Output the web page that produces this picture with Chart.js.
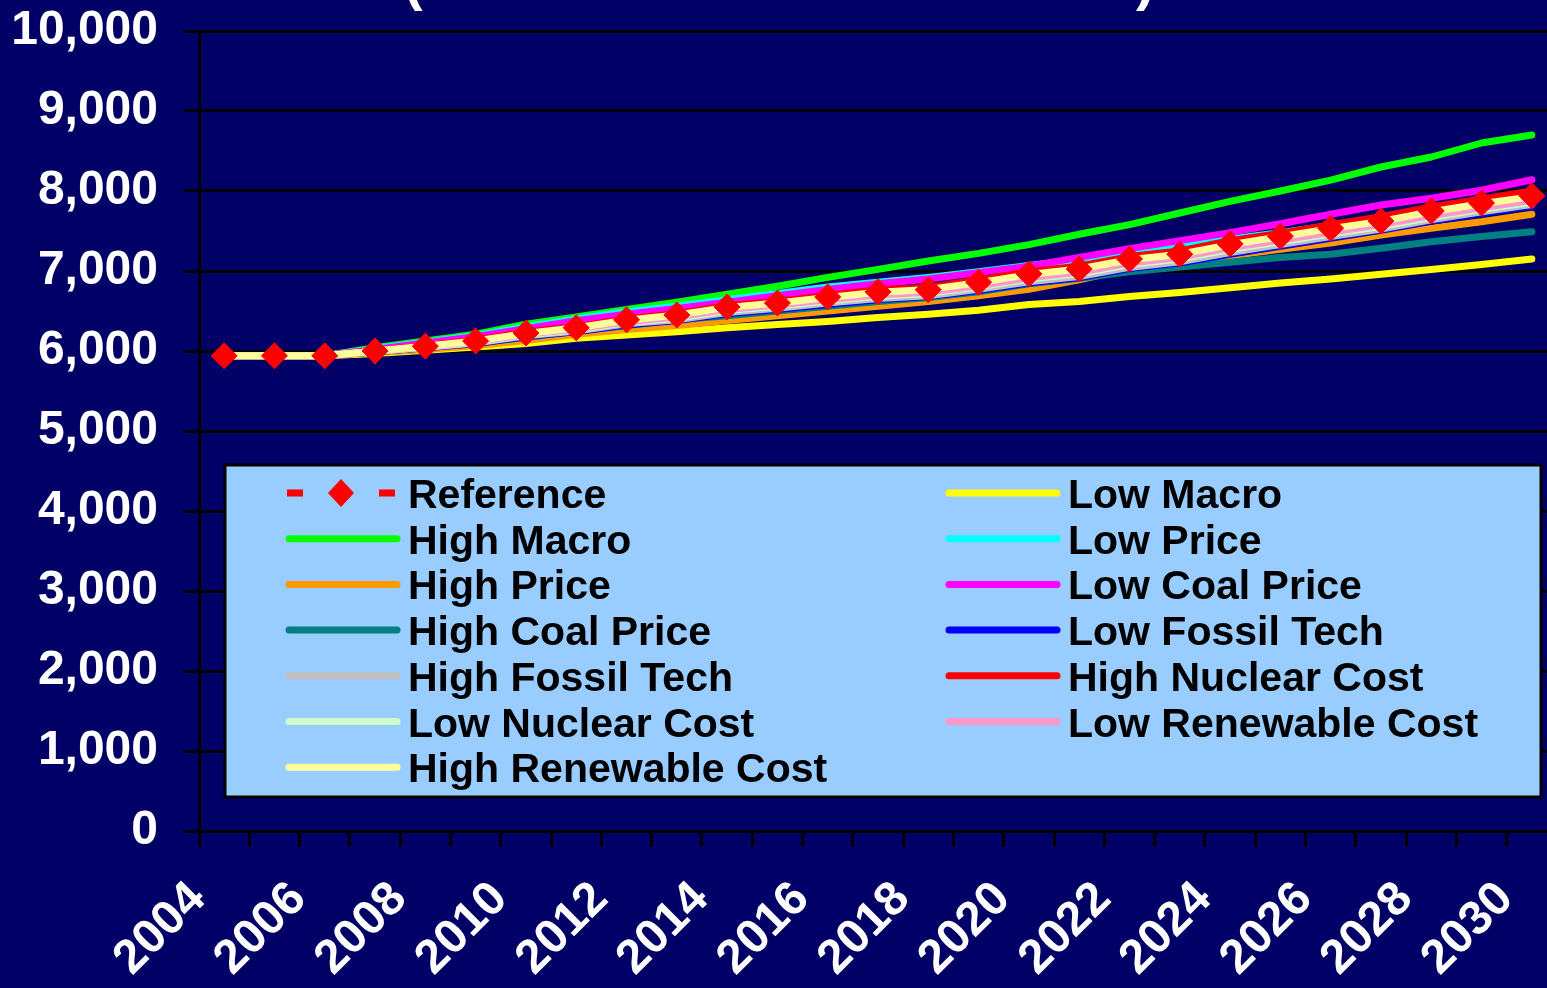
<!DOCTYPE html>
<html>
<head>
<meta charset="utf-8">
<title>Scenario chart</title>
<script src="https://cdn.jsdelivr.net/npm/chart.js@4/dist/chart.umd.min.js"></script>
<style>
    html, body { margin: 0; padding: 0; background: #000066; overflow: hidden; }
    canvas { display: block; }
</style>
</head>
<body>
<canvas id="scenarioChart" width="1583" height="988"></canvas>
<script>
const years = ['2004', '2005', '2006', '2007', '2008', '2009', '2010', '2011', '2012', '2013',
    '2014', '2015', '2016', '2017', '2018', '2019', '2020', '2021', '2022', '2023',
    '2024', '2025', '2026', '2027', '2028', '2029', '2030'];

const reference = [5940, 5940, 5940, 6000, 6060, 6125, 6225, 6290, 6390, 6450, 6550, 6600, 6675, 6740, 6765, 6860, 6965, 7025, 7150, 7210, 7340, 7435, 7535, 7625, 7750, 7850, 7940];
const lowMacro = [5940, 5940, 5940, 5970, 6010, 6050, 6095, 6160, 6200, 6240, 6290, 6330, 6370, 6420, 6460, 6510, 6580, 6620, 6680, 6730, 6790, 6850, 6900, 6960, 7020, 7080, 7150];
const highMacro = [5940, 5940, 5940, 6040, 6125, 6210, 6335, 6425, 6520, 6610, 6710, 6810, 6920, 7020, 7125, 7220, 7330, 7460, 7580, 7725, 7870, 8000, 8135, 8300, 8425, 8600, 8700];
const lowPrice = [5940, 5940, 5940, 6030, 6110, 6190, 6300, 6400, 6490, 6560, 6640, 6720, 6800, 6860, 6920, 6990, 7070, 7140, 7220, 7300, 7400, 7480, 7570, 7660, 7760, 7860, 7960];
const highPrice = [5940, 5940, 5940, 5980, 6020, 6070, 6130, 6210, 6270, 6320, 6380, 6440, 6500, 6560, 6620, 6690, 6770, 6890, 7030, 7110, 7190, 7270, 7350, 7450, 7535, 7615, 7710];
const lowCoalPrice = [5940, 5940, 5940, 6020, 6100, 6180, 6280, 6380, 6460, 6530, 6610, 6690, 6770, 6840, 6900, 6980, 7060, 7170, 7280, 7380, 7480, 7590, 7710, 7825, 7910, 8010, 8140];
const highCoalPrice = [5940, 5940, 5940, 5990, 6040, 6100, 6170, 6250, 6320, 6390, 6440, 6500, 6560, 6620, 6670, 6740, 6840, 6910, 6990, 7050, 7110, 7170, 7210, 7285, 7365, 7430, 7490];
const lowFossilTech = [5940, 5940, 5940, 5990, 6040, 6090, 6180, 6240, 6325, 6380, 6465, 6520, 6580, 6640, 6680, 6755, 6850, 6915, 7030, 7100, 7210, 7310, 7410, 7510, 7620, 7720, 7810];
const highFossilTech = [5940, 5940, 5940, 5990, 6045, 6100, 6190, 6250, 6340, 6390, 6480, 6535, 6600, 6655, 6690, 6770, 6865, 6930, 7045, 7115, 7230, 7330, 7430, 7525, 7640, 7740, 7830];
const highNuclearCost = [5940, 5940, 5940, 6000, 6065, 6135, 6235, 6305, 6400, 6465, 6565, 6620, 6695, 6765, 6795, 6890, 6990, 7060, 7180, 7250, 7380, 7470, 7580, 7680, 7800, 7900, 8000];
const lowNuclearCost = [5940, 5940, 5940, 5995, 6050, 6110, 6200, 6265, 6355, 6410, 6505, 6560, 6625, 6685, 6720, 6800, 6900, 6965, 7080, 7150, 7270, 7365, 7465, 7555, 7670, 7770, 7860];
const lowRenewableCost = [5940, 5940, 5940, 5995, 6055, 6115, 6210, 6275, 6365, 6425, 6520, 6575, 6640, 6700, 6735, 6815, 6915, 6985, 7100, 7170, 7290, 7385, 7485, 7580, 7690, 7790, 7880];
const highRenewableCost = [5940, 5940, 5940, 6000, 6060, 6125, 6220, 6290, 6385, 6450, 6545, 6600, 6670, 6735, 6770, 6855, 6955, 7025, 7140, 7210, 7330, 7430, 7530, 7620, 7740, 7840, 7930];

const fontFamily = 'Arial, "Liberation Sans", sans-serif';

function scenario(label, data, color, order) {
    return {
        label: label,
        data: data,
        borderColor: color,
        backgroundColor: color,
        borderWidth: 7,
        borderCapStyle: 'round',
        borderJoinStyle: 'round',
        pointRadius: 0,
        tension: 0,
        order: order
    };
}

// Title sits above the visible frame; only the tails of its brackets show
const clippedTitle = {
    id: 'clippedTitle',
    afterDraw: function(chart) {
        const ctx = chart.ctx;
        ctx.save();
        ctx.fillStyle = '#ffffff';
        ctx.font = 'bold 56px ' + fontFamily;
        ctx.textBaseline = 'alphabetic';
        ctx.fillText('(', 404, -1);
        ctx.fillText(')', 1136, -1);
        ctx.restore();
    }
};

// Legend inside the plot, two columns filled row by row
const boxLegend = {
    id: 'boxLegend',
    afterDraw: function(chart) {
        const ctx = chart.ctx;
        const area = chart.chartArea;
        const x0 = area.left + 26;
        const y0 = area.top + 434;
        const w = 1316;
        const h = 332;
        ctx.save();
        ctx.fillStyle = '#99ccff';
        ctx.fillRect(x0, y0, w, h);
        ctx.strokeStyle = '#000000';
        ctx.lineWidth = 3;
        ctx.strokeRect(x0, y0, w, h);
        ctx.font = 'bold 41px ' + fontFamily;
        ctx.textBaseline = 'alphabetic';
        chart.data.datasets.forEach(function(ds, i) {
            const col = i % 2;
            const row = Math.floor(i / 2);
            const lx = x0 + 61 + col * 660;
            const cy = y0 + 28 + row * 45.7;
            if (ds.showLine === false) {
                ctx.fillStyle = ds.pointBackgroundColor;
                ctx.fillRect(lx + 1, cy - 3.5, 16, 7);
                ctx.fillRect(lx + 93, cy - 3.5, 16, 7);
                ctx.beginPath();
                ctx.moveTo(lx + 55, cy - 14);
                ctx.lineTo(lx + 68, cy);
                ctx.lineTo(lx + 55, cy + 14);
                ctx.lineTo(lx + 42, cy);
                ctx.closePath();
                ctx.fill();
            } else {
                ctx.strokeStyle = ds.borderColor;
                ctx.lineWidth = 7;
                ctx.lineCap = 'round';
                ctx.beginPath();
                ctx.moveTo(lx + 3, cy);
                ctx.lineTo(lx + 111, cy);
                ctx.stroke();
            }
            ctx.fillStyle = '#000000';
            ctx.fillText(ds.label, lx + 122, cy + 15);
        });
        ctx.restore();
    }
};

const ctx = document.getElementById('scenarioChart').getContext('2d');
const chart = new Chart(ctx, {
    type: 'line',
    data: {
        labels: years,
        datasets: [
            {
                label: 'Reference',
                data: reference,
                showLine: false,
                borderColor: '#ff0000',
                backgroundColor: '#ff0000',
                pointStyle: 'rectRot',
                pointRadius: 13,
                pointBorderWidth: 1,
                pointBackgroundColor: '#ff0000',
                pointBorderColor: '#ff0000',
                order: 0
            },
            scenario('Low Macro', lowMacro, '#ffff00', 20),
            scenario('High Macro', highMacro, '#00ff00', 19),
            scenario('Low Price', lowPrice, '#00ffff', 18),
            scenario('High Price', highPrice, '#ff9900', 17),
            scenario('Low Coal Price', lowCoalPrice, '#ff00ff', 16),
            scenario('High Coal Price', highCoalPrice, '#008080', 15),
            scenario('Low Fossil Tech', lowFossilTech, '#0000ff', 14),
            scenario('High Fossil Tech', highFossilTech, '#c0c0c0', 13),
            scenario('High Nuclear Cost', highNuclearCost, '#ff0000', 12),
            scenario('Low Nuclear Cost', lowNuclearCost, '#ccffcc', 11),
            scenario('Low Renewable Cost', lowRenewableCost, '#ff99cc', 10),
            scenario('High Renewable Cost', highRenewableCost, '#ffff99', 9)
        ]
    },
    options: {
        responsive: false,
        animation: false,
        layout: {
            padding: { top: 31, right: 26, left: 0, bottom: 0 }
        },
        plugins: {
            legend: { display: false },
            tooltip: { enabled: false }
        },
        scales: {
            x: {
                offset: true,
                grid: {
                    offset: true,
                    drawOnChartArea: false,
                    drawTicks: true,
                    tickLength: 16,
                    color: '#000000',
                    lineWidth: 3
                },
                border: { color: '#000000', width: 3 },
                ticks: {
                    autoSkip: false,
                    maxRotation: 45,
                    minRotation: 45,
                    padding: 24,
                    labelOffset: -26,
                    color: '#ffffff',
                    font: { family: fontFamily, size: 48, weight: 'bold' },
                    callback: function(value, index) {
                        return index % 2 === 0 ? this.getLabelForValue(value) : '';
                    }
                },
                afterFit: function(scale) {
                    scale.height = 157;
                    scale.paddingLeft = 0;
                    scale.paddingRight = 0;
                }
            },
            y: {
                min: 0,
                max: 10000,
                grid: {
                    color: '#000000',
                    lineWidth: 3,
                    tickLength: 16
                },
                border: { color: '#000000', width: 3 },
                ticks: {
                    stepSize: 1000,
                    padding: 25,
                    color: '#ffffff',
                    font: { family: fontFamily, size: 48, weight: 'bold' },
                    callback: function(value) {
                        return value.toLocaleString('en-US');
                    }
                },
                afterFit: function(scale) {
                    scale.width = 199;
                    scale.paddingTop = 0;
                    scale.paddingBottom = 0;
                }
            }
        }
    },
    plugins: [boxLegend, clippedTitle]
});
</script>
</body>
</html>
